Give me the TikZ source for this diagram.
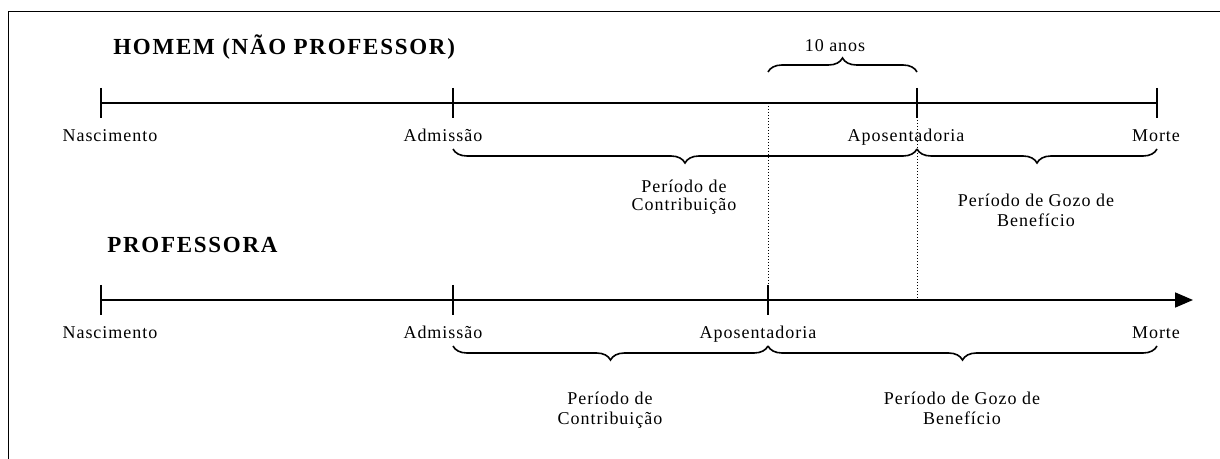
\documentclass[tikz,border=0pt]{standalone}
\usepackage{fontspec}
\setmainfont{Liberation Serif}
\newfontfamily\lblfont[LetterSpace=5.5]{Liberation Serif}
\newfontfamily\ttlfont[LetterSpace=7.5]{Liberation Serif}
\usetikzlibrary{positioning}
\usetikzlibrary{calc}
\usetikzlibrary{arrows.meta}
\usetikzlibrary{decorations.pathreplacing}
\tikzset{axis/.style={line width=0.9pt}}
\tikzset{tickline/.style={line width=0.9pt}}
\tikzset{guide/.style={line width=0.5pt, densely dotted}}
\tikzset{lbl/.style={font=\lblfont\fontsize{9}{10}\selectfont, inner sep=0pt, anchor=base}}
\tikzset{per/.style={lbl, align=center}}
\tikzset{ttl/.style={font=\ttlfont\bfseries\fontsize{11.5}{13}\selectfont, inner sep=0pt, anchor=base west}}
\tikzset{brc/.style={decorate, decoration={brace, amplitude=7pt}, line width=0.8pt}}

\begin{document}
\begin{tikzpicture}[x=0.5pt, y=-0.5pt]
\useasboundingbox (0,0) rectangle (1220,459);
\draw[line width=0.65pt] (1220,11.7) -- (8.3,11.7) -- (8.3,459);

\node[ttl] (homem) at (113,55) {HOMEM (NÃO PROFESSOR)};
\node[ttl] (prof) at (107,253) {PROFESSORA};

\coordinate (hN) at (101,103);
\coordinate (hA) at (453,103);
\coordinate (hP) at (917,103);
\coordinate (hM) at (1157,103);
\coordinate (pN) at (101,300);
\coordinate (pA) at (453,300);
\coordinate (pP) at (768,300);
\coordinate (pM) at (1157,300);
\coordinate (pE) at (1193,300);
\coordinate (hX) at (768,103);

\draw[guide] (hX) -- (pP);
\draw[guide] ($(hP)+(0,14)$) -- ($(hP)+(0,197)$);

\draw[axis] (hN) -- (hM);
\draw[axis, -{Triangle[length=9pt, width=7.5pt]}] (pN) -- (pE);

\draw[tickline] ($(hN)+(0,-15)$) -- ($(hN)+(0,15)$);
\draw[tickline] ($(hA)+(0,-15)$) -- ($(hA)+(0,15)$);
\draw[tickline] ($(hP)+(0,-15)$) -- ($(hP)+(0,15)$);
\draw[tickline] ($(hM)+(0,-15)$) -- ($(hM)+(0,15)$);
\draw[tickline] ($(pN)+(0,-15)$) -- ($(pN)+(0,15)$);
\draw[tickline] ($(pA)+(0,-15)$) -- ($(pA)+(0,15)$);
\draw[tickline] ($(pP)+(0,-15)$) -- ($(pP)+(0,15)$);

\node[lbl] (hNl) at (110,142) {Nascimento};
\node[lbl] (hAl) at (443,142) {Admissão};
\node[lbl] (hPl) at (906,142) {Aposentadoria};
\node[lbl] (hMl) at (1156,142) {Morte};
\node[lbl] (pNl) at (110,339) {Nascimento};
\node[lbl] (pAl) at (443,339) {Admissão};
\node[lbl] (pPl) at (758,339) {Aposentadoria};
\node[lbl] (pMl) at (1156,339) {Morte};

% 10 anos
\draw[brc] ($(hX)+(0,-31)$) -- ($(hP)+(0,-31)$);
\node[lbl] (dez) at (835,52) {10 anos};

% homem
\draw[brc, decoration={mirror}] ($(hA)+(0,46)$) -- ($(hP)+(0,46)$);
\draw[brc, decoration={mirror}] ($(hP)+(0,46)$) -- ($(hM)+(0,46)$);
\node[per] (hC) at (684,211) {Período de\\[-1pt]Contribuição};
\node[per] (hG) at (1036,227) {Período de Gozo de\\Benefício};

% professora
\draw[brc, decoration={mirror}] ($(pA)+(0,46)$) -- ($(pP)+(0,46)$);
\draw[brc, decoration={mirror}] ($(pP)+(0,46)$) -- ($(pM)+(0,46)$);
\node[per] (pC) at (610,424) {Período de\\Contribuição};
\node[per] (pG) at (962,424) {Período de Gozo de\\Benefício};
\end{tikzpicture}
\end{document}
